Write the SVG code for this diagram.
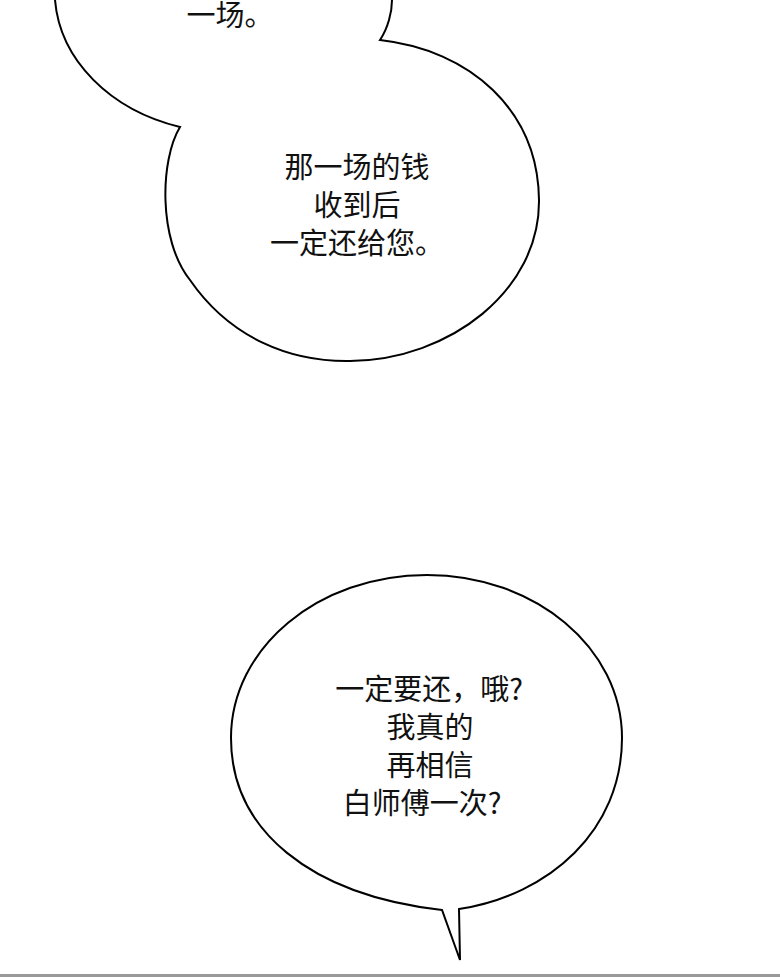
<svg xmlns="http://www.w3.org/2000/svg" width="780" height="977" viewBox="0 0 780 977">
<style>
.b{fill:#fff;stroke:#000;stroke-width:2}
.t{font-family:"Noto Sans CJK SC",sans-serif;font-size:29px;fill:#111;text-anchor:middle}
</style>
<rect width="780" height="977" fill="#fff"/>
<g id="bubble1">
<path class="b" d="M55 0 C60 60 110 110 180 127 C160 160 158 240 190 280 C230 338 290 362 350 361 C450 360 540 290 539 200 C538 110 470 50 380 40 C388 28 392 12 392 0"/>
<text class="t" x="230" y="26">一场。</text>
<text class="t" x="357" y="178">那一场的钱</text>
<text class="t" x="357" y="216">收到后</text>
<text class="t" x="357" y="254">一定还给您。</text>
</g>
<g id="bubble2">
<path class="b" d="M442 910 C310 895 231 830 231 738 C231 648 318 575 427 575 C535 575 622 648 622 738 C622 830 550 895 459 909 L460 960 Z"/>
<text class="t" x="429" y="700">一定要还，哦?</text>
<text class="t" x="430" y="738">我真的</text>
<text class="t" x="430" y="776">再相信</text>
<text class="t" x="422" y="814">白师傅一次?</text>
</g>
<rect x="0" y="974" width="780" height="3" fill="#999"/>
</svg>
